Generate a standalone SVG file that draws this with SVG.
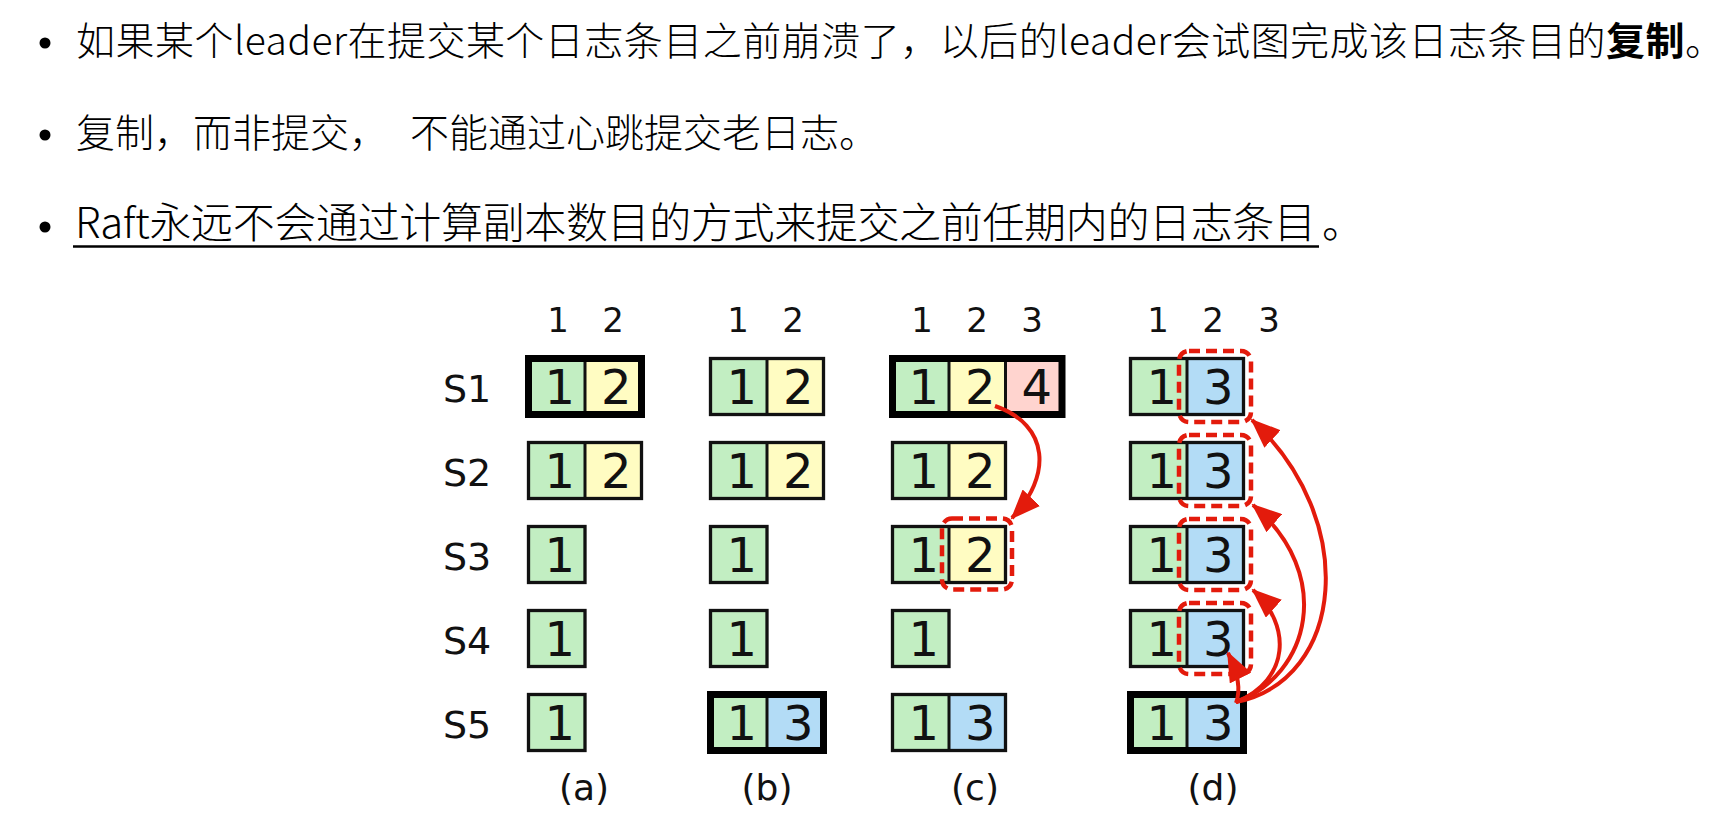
<svg xmlns="http://www.w3.org/2000/svg" width="1727" height="826" viewBox="0 0 1727 826">
<defs>
<style>
.t{font-family:"Noto Sans CJK SC","Noto Sans",sans-serif;font-weight:300;fill:#000}
.g{fill:#c2eec2}.y{fill:#fffcc2}.p{fill:#ffd4cf}.b{fill:#b3dcf6}
.bx{fill:none;stroke:#111;stroke-width:3.3}
.tk{fill:none;stroke:#000;stroke-width:7}
.dv{stroke:#111;stroke-width:3}
.n{font-family:"DejaVu Sans",sans-serif;font-size:48px;text-anchor:middle;fill:#111}
.h{font-family:"DejaVu Sans",sans-serif;font-size:34px;text-anchor:middle;fill:#111}
.s{font-family:"DejaVu Sans",sans-serif;font-size:38px;fill:#111}
.lb{font-family:"DejaVu Sans",sans-serif;font-size:36px;text-anchor:middle;fill:#111}
.hl{fill:none;stroke:#e31b0c;stroke-width:4.5;stroke-dasharray:11 6}
.ar{fill:none;stroke:#e31b0c;stroke-width:4;marker-end:url(#ah)}
</style>
<marker id="ah" markerUnits="userSpaceOnUse" markerWidth="30" markerHeight="24" viewBox="0 0 30 24" refX="28" refY="12" orient="auto"><path d="M0,0 L30,12 L0,24 z" fill="#e31b0c"/></marker>
</defs>
<rect width="1727" height="826" fill="#fff"/>

<g id="bullets">
<circle cx="45" cy="43" r="5.5"/>
<circle cx="45" cy="135" r="5.5"/>
<circle cx="45" cy="227" r="5.5"/>
<text class="t" x="76" y="55" font-size="39" textLength="1648" lengthAdjust="spacing">如果某个leader在提交某个日志条目之前崩溃了，以后的leader会试图完成该日志条目的<tspan font-weight="bold">复制</tspan>。</text>
<text class="t" x="76" y="147" font-size="39">复制，而非提交，</text>
<text class="t" x="410" y="147" font-size="39">不能通过心跳提交老日志。</text>
<text class="t" x="75" y="238" font-size="42" textLength="1241" lengthAdjust="spacing">Raft永远不会通过计算副本数目的方式来提交之前任期内的日志条目</text>
<text class="t" x="1322" y="238" font-size="42">。</text>
<line x1="73" y1="246.5" x2="1319" y2="246.5" stroke="#000" stroke-width="2.5"/>
</g>

<g id="labels">
<text class="h" x="558" y="332">1</text><text class="h" x="613" y="332">2</text>
<text class="h" x="738" y="332">1</text><text class="h" x="793" y="332">2</text>
<text class="h" x="922" y="332">1</text><text class="h" x="977" y="332">2</text><text class="h" x="1032" y="332">3</text>
<text class="h" x="1158" y="332">1</text><text class="h" x="1213" y="332">2</text><text class="h" x="1269" y="332">3</text>
<text class="s" x="443" y="401.5">S1</text>
<text class="s" x="443" y="485.5">S2</text>
<text class="s" x="443" y="569.5">S3</text>
<text class="s" x="443" y="653.5">S4</text>
<text class="s" x="443" y="737.5">S5</text>
<text class="lb" x="584" y="800">(a)</text>
<text class="lb" x="767" y="800">(b)</text>
<text class="lb" x="975" y="800">(c)</text>
<text class="lb" x="1213" y="800">(d)</text>
</g>

<!-- panel a -->
<g id="a-s1"><rect class="g" x="528.5" y="358.5" width="56.5" height="56"/><rect class="y" x="585" y="358.5" width="56.5" height="56"/><line class="dv" x1="585" y1="358.5" x2="585" y2="414.5"/><rect class="tk" x="528.5" y="358.5" width="113" height="56"/><text class="n" x="559.75" y="403.5">1</text><text class="n" x="616.25" y="403.5">2</text></g>
<g id="a-s2"><rect class="g" x="528.5" y="442.5" width="56.5" height="56"/><rect class="y" x="585" y="442.5" width="56.5" height="56"/><line class="dv" x1="585" y1="442.5" x2="585" y2="498.5"/><rect class="bx" x="528.5" y="442.5" width="113" height="56"/><text class="n" x="559.75" y="487.5">1</text><text class="n" x="616.25" y="487.5">2</text></g>
<g id="a-s3"><rect class="g" x="528.5" y="526.5" width="56.5" height="56"/><rect class="bx" x="528.5" y="526.5" width="56.5" height="56"/><text class="n" x="559.75" y="571.5">1</text></g>
<g id="a-s4"><rect class="g" x="528.5" y="610.5" width="56.5" height="56"/><rect class="bx" x="528.5" y="610.5" width="56.5" height="56"/><text class="n" x="559.75" y="655.5">1</text></g>
<g id="a-s5"><rect class="g" x="528.5" y="694.5" width="56.5" height="56"/><rect class="bx" x="528.5" y="694.5" width="56.5" height="56"/><text class="n" x="559.75" y="739.5">1</text></g>

<!-- panel b -->
<g id="b-s1"><rect class="g" x="710.5" y="358.5" width="56.5" height="56"/><rect class="y" x="767" y="358.5" width="56.5" height="56"/><line class="dv" x1="767" y1="358.5" x2="767" y2="414.5"/><rect class="bx" x="710.5" y="358.5" width="113" height="56"/><text class="n" x="741.75" y="403.5">1</text><text class="n" x="798.25" y="403.5">2</text></g>
<g id="b-s2"><rect class="g" x="710.5" y="442.5" width="56.5" height="56"/><rect class="y" x="767" y="442.5" width="56.5" height="56"/><line class="dv" x1="767" y1="442.5" x2="767" y2="498.5"/><rect class="bx" x="710.5" y="442.5" width="113" height="56"/><text class="n" x="741.75" y="487.5">1</text><text class="n" x="798.25" y="487.5">2</text></g>
<g id="b-s3"><rect class="g" x="710.5" y="526.5" width="56.5" height="56"/><rect class="bx" x="710.5" y="526.5" width="56.5" height="56"/><text class="n" x="741.75" y="571.5">1</text></g>
<g id="b-s4"><rect class="g" x="710.5" y="610.5" width="56.5" height="56"/><rect class="bx" x="710.5" y="610.5" width="56.5" height="56"/><text class="n" x="741.75" y="655.5">1</text></g>
<g id="b-s5"><rect class="g" x="710.5" y="694.5" width="56.5" height="56"/><rect class="b" x="767" y="694.5" width="56.5" height="56"/><line class="dv" x1="767" y1="694.5" x2="767" y2="750.5"/><rect class="tk" x="710.5" y="694.5" width="113" height="56"/><text class="n" x="741.75" y="739.5">1</text><text class="n" x="798.25" y="739.5">3</text></g>

<!-- panel c -->
<g id="c-s1"><rect class="g" x="892.5" y="358.5" width="56.5" height="56"/><rect class="y" x="949" y="358.5" width="56.5" height="56"/><rect class="p" x="1005.5" y="358.5" width="56.5" height="56"/><line class="dv" x1="949" y1="358.5" x2="949" y2="414.5"/><line class="dv" x1="1005.5" y1="358.5" x2="1005.5" y2="414.5"/><rect class="tk" x="892.5" y="358.5" width="169.5" height="56"/><text class="n" x="923.75" y="403.5">1</text><text class="n" x="980.25" y="403.5">2</text><text class="n" x="1036.75" y="403.5">4</text></g>
<g id="c-s2"><rect class="g" x="892.5" y="442.5" width="56.5" height="56"/><rect class="y" x="949" y="442.5" width="56.5" height="56"/><line class="dv" x1="949" y1="442.5" x2="949" y2="498.5"/><rect class="bx" x="892.5" y="442.5" width="113" height="56"/><text class="n" x="923.75" y="487.5">1</text><text class="n" x="980.25" y="487.5">2</text></g>
<g id="c-s3"><rect class="g" x="892.5" y="526.5" width="56.5" height="56"/><rect class="y" x="949" y="526.5" width="56.5" height="56"/><line class="dv" x1="949" y1="526.5" x2="949" y2="582.5"/><rect class="bx" x="892.5" y="526.5" width="113" height="56"/><text class="n" x="923.75" y="571.5">1</text><text class="n" x="980.25" y="571.5">2</text><rect class="hl" x="942" y="518.5" width="70" height="71" rx="10"/></g>
<g id="c-s4"><rect class="g" x="892.5" y="610.5" width="56.5" height="56"/><rect class="bx" x="892.5" y="610.5" width="56.5" height="56"/><text class="n" x="923.75" y="655.5">1</text></g>
<g id="c-s5"><rect class="g" x="892.5" y="694.5" width="56.5" height="56"/><rect class="b" x="949" y="694.5" width="56.5" height="56"/><line class="dv" x1="949" y1="694.5" x2="949" y2="750.5"/><rect class="bx" x="892.5" y="694.5" width="113" height="56"/><text class="n" x="923.75" y="739.5">1</text><text class="n" x="980.25" y="739.5">3</text></g>

<!-- panel d -->
<g id="d-s1"><rect class="g" x="1130.5" y="358.5" width="56.5" height="56"/><rect class="b" x="1187" y="358.5" width="56.5" height="56"/><line class="dv" x1="1187" y1="358.5" x2="1187" y2="414.5"/><rect class="bx" x="1130.5" y="358.5" width="113" height="56"/><text class="n" x="1161.75" y="403.5">1</text><text class="n" x="1218.25" y="403.5">3</text><rect class="hl" x="1179" y="351" width="72" height="71" rx="10"/></g>
<g id="d-s2"><rect class="g" x="1130.5" y="442.5" width="56.5" height="56"/><rect class="b" x="1187" y="442.5" width="56.5" height="56"/><line class="dv" x1="1187" y1="442.5" x2="1187" y2="498.5"/><rect class="bx" x="1130.5" y="442.5" width="113" height="56"/><text class="n" x="1161.75" y="487.5">1</text><text class="n" x="1218.25" y="487.5">3</text><rect class="hl" x="1179" y="435" width="72" height="71" rx="10"/></g>
<g id="d-s3"><rect class="g" x="1130.5" y="526.5" width="56.5" height="56"/><rect class="b" x="1187" y="526.5" width="56.5" height="56"/><line class="dv" x1="1187" y1="526.5" x2="1187" y2="582.5"/><rect class="bx" x="1130.5" y="526.5" width="113" height="56"/><text class="n" x="1161.75" y="571.5">1</text><text class="n" x="1218.25" y="571.5">3</text><rect class="hl" x="1179" y="519" width="72" height="71" rx="10"/></g>
<g id="d-s4"><rect class="g" x="1130.5" y="610.5" width="56.5" height="56"/><rect class="b" x="1187" y="610.5" width="56.5" height="56"/><line class="dv" x1="1187" y1="610.5" x2="1187" y2="666.5"/><rect class="bx" x="1130.5" y="610.5" width="113" height="56"/><text class="n" x="1161.75" y="655.5">1</text><text class="n" x="1218.25" y="655.5">3</text><rect class="hl" x="1179" y="603" width="72" height="71" rx="10"/></g>
<g id="d-s5"><rect class="g" x="1130.5" y="694.5" width="56.5" height="56"/><rect class="b" x="1187" y="694.5" width="56.5" height="56"/><line class="dv" x1="1187" y1="694.5" x2="1187" y2="750.5"/><rect class="tk" x="1130.5" y="694.5" width="113" height="56"/><text class="n" x="1161.75" y="739.5">1</text><text class="n" x="1218.25" y="739.5">3</text></g>

<g id="connectors">
<path class="ar" d="M995,406 C1050,425 1052,476 1012,518"/>
<path class="ar" d="M1236,703 C1241,690 1239,675 1228,653"/>
<path class="ar" d="M1236,702 C1290,680 1292,625 1253,590"/>
<path class="ar" d="M1236,702 C1310,675 1335,575 1253,505"/>
<path class="ar" d="M1236,702 C1345,680 1360,520 1252,420"/>
</g>
</svg>
